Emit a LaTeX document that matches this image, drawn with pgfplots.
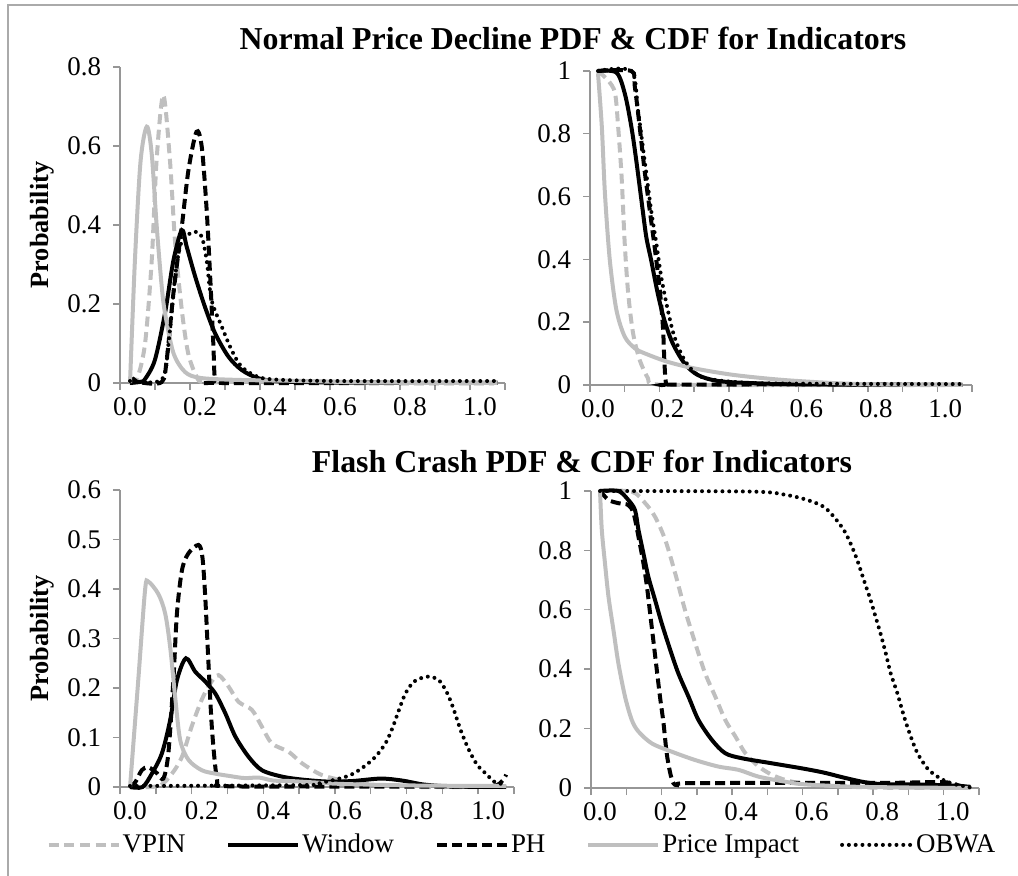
\documentclass[border=0pt]{standalone}
\usepackage{fontspec}
\setmainfont{Liberation Serif}
\usepackage{pgfplots}
\pgfplotsset{compat=1.18}
\newcommand\tf{\fontsize{13.5}{16}\selectfont}
\newcommand\labfont{\bfseries\fontsize{13.2}{15}\selectfont}
\newcommand\titfont{\bfseries\fontsize{16}{19}\selectfont}
\definecolor{lg}{RGB}{191,191,191}
\definecolor{axgray}{RGB}{150,150,150}
\definecolor{framegray}{RGB}{170,170,170}
\pgfplotsset{
  vpin/.style={color=lg, line width=2bp, dash pattern=on 5bp off 2.8bp, smooth, tension=0.5},
  win/.style={color=black, line width=2bp, smooth, tension=0.5},
  ph/.style={color=black, line width=2bp, dash pattern=on 5bp off 2.5bp, smooth, tension=0.5},
  pimp/.style={color=lg, line width=2bp, smooth, tension=0.5},
  obwa/.style={color=black, line width=2bp, dash pattern=on 0bp off 3.4bp, line cap=round, smooth, tension=0.5},
  panel/.style={
    scale only axis, axis lines*=left, clip=false, anchor=south west,
    axis line style={draw=axgray, line width=0.7bp},
    tick align=outside, tick style={draw=axgray, line width=0.7bp},
    major tick length=0pt, minor tick length=3.5bp,
    xtick={0,0.2,0.4,0.6,0.8,1.0},
    xticklabels={{\tf 0.0},{\tf 0.2},{\tf 0.4},{\tf 0.6},{\tf 0.8},{\tf 1.0}},
    xticklabel style={yshift=-4bp},
    yticklabel style={xshift=-6bp},
    no markers, ymin=0,
    legend image code/.code={\draw[##1] (0bp,0bp) -- (35bp,0bp);},
  },
}
\begin{document}
\begin{tikzpicture}
\useasboundingbox (0,0) rectangle (509bp,438bp);
\draw[framegray, line width=0.8bp] (4bp,-5bp) -- (4bp,435.5bp) -- (515bp,435.5bp);
\node[font=\titfont, anchor=base] at (286.5bp,413bp) {Normal Price Decline PDF \& CDF for Indicators};
\node[font=\titfont, anchor=base] at (291bp,201.5bp) {Flash Crash PDF \& CDF for Indicators};

% ---------- Panel 1: Normal PDF ----------
\begin{axis}[panel, at={(60bp,246.5bp)}, width=192.5bp, height=158bp,
  xmin=-0.0286, xmax=1.0714, ymax=0.8,
  minor xtick={-0.0286,0.0714,...,1.08},
  ytick={0,0.2,0.4,0.6,0.8}, minor ytick={0,0.2,0.4,0.6,0.8},
  yticklabels={{\tf 0},{\tf 0.2},{\tf 0.4},{\tf 0.6},{\tf 0.8}},
  ylabel={\labfont Probability},
  ylabel style={at={(axis description cs:-0.2026,0.5)}, anchor=center}]
\addplot[vpin] coordinates {(0,0) (0.02,0.01) (0.043,0.1) (0.062,0.31) (0.076,0.565) (0.095,0.729) (0.114,0.565) (0.129,0.354) (0.148,0.185) (0.166,0.076) (0.19,0.016) (0.21,0.002) (0.3,0.003) (0.5,0.004) (0.7,0.002) (1.05,0)};
\addplot[win] coordinates {(0,0) (0.03,0.003) (0.043,0.01) (0.071,0.058) (0.1,0.177) (0.124,0.31) (0.148,0.387) (0.162,0.345) (0.186,0.27) (0.214,0.193) (0.243,0.126) (0.281,0.067) (0.319,0.033) (0.367,0.012) (0.43,0.004) (0.6,0.001) (1.05,0)};
\addplot[ph] coordinates {(0,0) (0.01,0.01) (0.025,0.002) (0.09,0.002) (0.105,0.06) (0.124,0.227) (0.148,0.396) (0.167,0.539) (0.19,0.636) (0.205,0.598) (0.219,0.438) (0.229,0.27) (0.238,0.1) (0.243,0.008) (0.26,0) (1.05,0)};
\addplot[pimp] coordinates {(0,0) (0.014,0.31) (0.03,0.56) (0.048,0.649) (0.062,0.58) (0.076,0.40) (0.09,0.25) (0.10,0.177) (0.124,0.076) (0.157,0.028) (0.2,0.013) (0.3,0.008) (0.5,0.005) (0.7,0.001) (1.05,0)};
\addplot[obwa] coordinates {(0,0.005) (0.09,0.008) (0.11,0.1) (0.129,0.27) (0.143,0.345) (0.157,0.37) (0.186,0.383) (0.205,0.37) (0.219,0.311) (0.233,0.21) (0.262,0.143) (0.29,0.084) (0.319,0.041) (0.367,0.015) (0.43,0.008) (0.6,0.005) (1.05,0.005)};
\end{axis}

% ---------- Panel 2: Normal CDF ----------
\begin{axis}[panel, at={(295bp,245.5bp)}, width=191bp, height=157bp,
  xmin=-0.023, xmax=1.077, ymax=1,
  minor xtick={-0.023,0.077,...,1.08},
  ytick={0,0.2,0.4,0.6,0.8,1}, minor ytick={0,0.2,0.4,0.6,0.8,1},
  yticklabels={{\tf 0},{\tf 0.2},{\tf 0.4},{\tf 0.6},{\tf 0.8},{\tf 1}}]
\addplot[vpin] coordinates {(0,1) (0.029,0.97) (0.049,0.93) (0.058,0.823) (0.068,0.663) (0.077,0.451) (0.087,0.292) (0.101,0.165) (0.12,0.08) (0.144,0.021) (0.16,0.003) (0.3,0) (1.05,0)};
\addplot[win] coordinates {(0,1) (0.053,0.995) (0.077,0.929) (0.096,0.823) (0.11,0.717) (0.125,0.589) (0.139,0.472) (0.153,0.398) (0.172,0.292) (0.191,0.207) (0.215,0.133) (0.249,0.069) (0.287,0.032) (0.344,0.013) (0.44,0.006) (0.6,0.002) (1.05,0)};
\addplot[ph] coordinates {(0,1) (0.096,1) (0.106,0.95) (0.12,0.823) (0.134,0.685) (0.149,0.557) (0.163,0.44) (0.177,0.313) (0.187,0.186) (0.191,0.08) (0.196,0.006) (0.21,0.001) (0.6,0.002) (1.05,0)};
\addplot[pimp] coordinates {(0,0.993) (0.011,0.823) (0.02,0.61) (0.034,0.398) (0.053,0.239) (0.077,0.154) (0.106,0.117) (0.134,0.101) (0.2,0.074) (0.277,0.053) (0.391,0.032) (0.534,0.016) (0.7,0.005) (0.85,0.001) (1.05,0)};
\addplot[obwa] coordinates {(0,1) (0.096,1) (0.115,0.876) (0.134,0.717) (0.153,0.557) (0.168,0.451) (0.182,0.345) (0.201,0.239) (0.22,0.154) (0.249,0.08) (0.287,0.032) (0.344,0.015) (0.5,0.005) (1.05,0.003)};
\end{axis}

% ---------- Panel 3: Flash PDF ----------
\begin{axis}[panel, at={(60bp,44.5bp)}, width=197bp, height=148.5bp,
  xmin=-0.028, xmax=1.072, ymax=0.6,
  minor xtick={-0.028,0.072,...,1.08},
  ytick={0,0.1,0.2,0.3,0.4,0.5,0.6}, minor ytick={0,0.1,0.2,0.3,0.4,0.5,0.6},
  yticklabels={{\tf 0},{\tf 0.1},{\tf 0.2},{\tf 0.3},{\tf 0.4},{\tf 0.5},{\tf 0.6}},
  ylabel={\labfont Probability},
  ylabel style={at={(axis description cs:-0.198,0.5)}, anchor=center},
  legend columns=5,
  legend style={at={(1.0203,-0.195)}, anchor=center, draw=none, fill=none,
    nodes={inner xsep=1bp},
    /tikz/every odd column/.append style={column sep=0bp},
    /tikz/every even column/.append style={column sep=19.5bp}}]
\addplot[vpin] coordinates {(0,0) (0.08,0.002) (0.117,0.027) (0.145,0.061) (0.172,0.122) (0.2,0.176) (0.224,0.209) (0.247,0.226) (0.275,0.203) (0.303,0.172) (0.34,0.156) (0.368,0.122) (0.396,0.088) (0.443,0.071) (0.48,0.048) (0.527,0.027) (0.564,0.018) (0.62,0.01) (0.7,0.003) (0.8,0) (1.05,0)};
\addlegendentry{\tf VPIN}
\addplot[win] coordinates {(0,0) (0.035,0) (0.061,0.027) (0.089,0.068) (0.112,0.135) (0.131,0.216) (0.156,0.26) (0.182,0.233) (0.21,0.213) (0.238,0.189) (0.266,0.149) (0.294,0.102) (0.331,0.061) (0.368,0.034) (0.424,0.021) (0.48,0.015) (0.55,0.011) (0.62,0.012) (0.7,0.017) (0.76,0.013) (0.82,0.005) (0.9,0.001) (1.05,0)};
\addlegendentry{\tf Window}
\addplot[ph] coordinates {(0,0) (0.015,0.01) (0.033,0.034) (0.051,0.04) (0.075,0.028) (0.093,0.017) (0.107,0.068) (0.121,0.216) (0.131,0.351) (0.145,0.438) (0.163,0.472) (0.191,0.489) (0.202,0.465) (0.21,0.384) (0.219,0.25) (0.229,0.115) (0.243,0.014) (0.26,0.002) (0.5,0.001) (0.9,0.001) (1.02,0.003) (1.05,0.025)};
\addlegendentry{\tf PH}
\addplot[pimp] coordinates {(0,0) (0.023,0.216) (0.042,0.398) (0.051,0.415) (0.079,0.39) (0.098,0.351) (0.112,0.283) (0.126,0.182) (0.14,0.095) (0.163,0.055) (0.2,0.034) (0.238,0.027) (0.28,0.022) (0.32,0.018) (0.36,0.019) (0.4,0.013) (0.45,0.012) (0.52,0.009) (0.6,0.006) (0.8,0.003) (1.05,0.002)};
\addlegendentry{\tf Price Impact}
\addplot[obwa] coordinates {(0,0.002) (0.5,0.004) (0.53,0.008) (0.568,0.014) (0.615,0.024) (0.653,0.041) (0.685,0.061) (0.713,0.088) (0.732,0.118) (0.751,0.156) (0.769,0.189) (0.793,0.213) (0.83,0.223) (0.862,0.216) (0.886,0.189) (0.904,0.156) (0.923,0.115) (0.946,0.075) (0.97,0.044) (0.998,0.024) (1.016,0.011) (1.05,0.004)};
\addlegendentry{\tf OBWA}
\end{axis}

% ---------- Panel 4: Flash CDF ----------
\begin{axis}[panel, at={(295.5bp,44bp)}, width=194bp, height=148.5bp,
  xmin=-0.0256, xmax=1.0744, ymax=1,
  minor xtick={-0.0256,0.0744,...,1.08},
  ytick={0,0.2,0.4,0.6,0.8,1}, minor ytick={0,0.2,0.4,0.6,0.8,1},
  yticklabels={{\tf 0},{\tf 0.2},{\tf 0.4},{\tf 0.6},{\tf 0.8},{\tf 1}}]
\addplot[vpin] coordinates {(0,1) (0.09,0.998) (0.128,0.959) (0.156,0.913) (0.185,0.835) (0.213,0.723) (0.241,0.599) (0.27,0.487) (0.298,0.386) (0.327,0.307) (0.355,0.229) (0.384,0.173) (0.412,0.117) (0.45,0.072) (0.488,0.044) (0.526,0.027) (0.573,0.016) (0.7,0.005) (0.8,0.001) (1.05,0)};
\addplot[win] coordinates {(0,1) (0.052,1) (0.08,0.97) (0.099,0.936) (0.109,0.869) (0.123,0.79) (0.137,0.711) (0.156,0.633) (0.175,0.554) (0.199,0.465) (0.222,0.386) (0.251,0.307) (0.279,0.229) (0.317,0.162) (0.355,0.117) (0.403,0.1) (0.488,0.083) (0.573,0.066) (0.634,0.052) (0.691,0.035) (0.748,0.02) (0.8,0.013) (0.9,0.012) (1.0,0.008) (1.05,0.004)};
\addplot[ph] coordinates {(0,1) (0.024,0.97) (0.052,0.959) (0.08,0.953) (0.095,0.925) (0.109,0.846) (0.123,0.757) (0.133,0.678) (0.142,0.588) (0.151,0.498) (0.161,0.397) (0.17,0.307) (0.18,0.218) (0.189,0.117) (0.199,0.05) (0.208,0.016) (0.218,0.01) (0.241,0.016) (0.5,0.017) (0.8,0.017) (0.95,0.02) (0.99,0.018) (1.013,0.01) (1.04,0.002)};
\addplot[pimp] coordinates {(0,1) (0.005,0.869) (0.014,0.757) (0.024,0.644) (0.038,0.532) (0.052,0.42) (0.071,0.307) (0.09,0.229) (0.109,0.19) (0.147,0.15) (0.204,0.122) (0.27,0.094) (0.336,0.072) (0.393,0.061) (0.45,0.038) (0.526,0.021) (0.573,0.013) (0.7,0.005) (0.85,0.002) (1.05,0)};
\addplot[obwa] coordinates {(0,1) (0.43,0.998) (0.526,0.987) (0.587,0.97) (0.634,0.947) (0.663,0.913) (0.691,0.869) (0.71,0.824) (0.729,0.768) (0.748,0.7) (0.767,0.633) (0.781,0.577) (0.795,0.521) (0.81,0.454) (0.824,0.386) (0.843,0.319) (0.862,0.24) (0.881,0.173) (0.9,0.117) (0.928,0.066) (0.957,0.038) (0.994,0.016) (1.051,0.002)};
\end{axis}
\end{tikzpicture}
\end{document}
